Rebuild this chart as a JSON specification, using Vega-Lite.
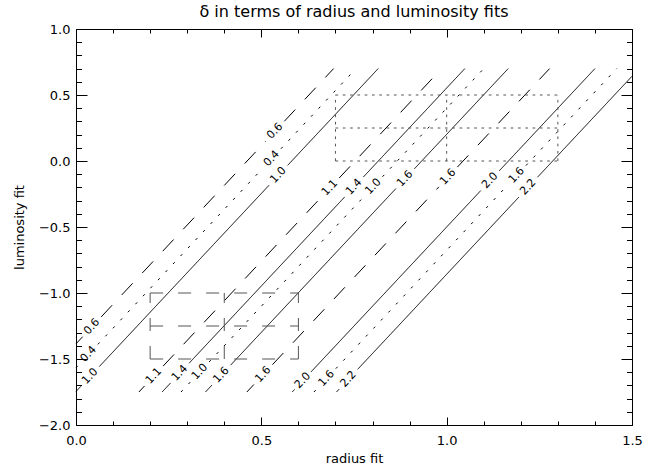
{
  "$schema": "https://vega.github.io/schema/vega-lite/v6.json",
  "width": 556,
  "height": 396,
  "autosize": {"type": "none"},
  "padding": {"left": 76, "top": 29, "right": 27, "bottom": 41},
  "background": "white",
  "title": {"text": "δ in terms of radius and luminosity fits", "fontSize": 16, "font": "DejaVu Sans", "fontWeight": "normal", "color": "black", "anchor": "middle", "offset": -10, "baseline": "alphabetic"},
  "config": {
    "view": {"stroke": null},
    "axis": {"domainColor": "black", "tickColor": "black", "labelColor": "black", "titleColor": "black", "labelFont": "DejaVu Sans", "titleFont": "DejaVu Sans", "labelFontSize": 13, "titleFontSize": 13, "titleFontWeight": "normal", "grid": false, "labelFlush": false, "labelOverlap": false, "domainWidth": 1, "tickWidth": 1}
  },
  "datasets": {
    "segments": [
      {"set": "set2", "x": 0, "y": -1.385, "x2": 0.018, "y2": -1.331},
      {"set": "set2", "x": 0.068, "y": -1.181, "x2": 0.512, "y2": 0.151},
      {"set": "set2", "x": 0.562, "y": 0.301, "x2": 0.695, "y2": 0.7},
      {"set": "set3", "x": 0, "y": -1.566, "x2": 0.009, "y2": -1.539},
      {"set": "set3", "x": 0.059, "y": -1.389, "x2": 0.503, "y2": -0.057},
      {"set": "set3", "x": 0.553, "y": 0.093, "x2": 0.7553, "y2": 0.7},
      {"set": "set1", "x": 0, "y": -1.746, "x2": 0.013, "y2": -1.707},
      {"set": "set1", "x": 0.063, "y": -1.557, "x2": 0.521, "y2": -0.183},
      {"set": "set1", "x": 0.571, "y": -0.033, "x2": 0.8153, "y2": 0.7},
      {"set": "set2", "x": 0.1697, "y": -1.75, "x2": 0.185, "y2": -1.704},
      {"set": "set2", "x": 0.235, "y": -1.554, "x2": 0.66, "y2": -0.279},
      {"set": "set2", "x": 0.71, "y": -0.129, "x2": 0.9863, "y2": 0.7},
      {"set": "set1", "x": 0.2323, "y": -1.75, "x2": 0.255, "y2": -1.682},
      {"set": "set1", "x": 0.305, "y": -1.532, "x2": 0.725, "y2": -0.272},
      {"set": "set1", "x": 0.775, "y": -0.122, "x2": 1.049, "y2": 0.7},
      {"set": "set3", "x": 0.2833, "y": -1.75, "x2": 0.309, "y2": -1.673},
      {"set": "set3", "x": 0.359, "y": -1.523, "x2": 0.777, "y2": -0.269},
      {"set": "set3", "x": 0.827, "y": -0.119, "x2": 1.1, "y2": 0.7},
      {"set": "set1", "x": 0.3493, "y": -1.75, "x2": 0.367, "y2": -1.697},
      {"set": "set1", "x": 0.417, "y": -1.547, "x2": 0.863, "y2": -0.209},
      {"set": "set1", "x": 0.913, "y": -0.059, "x2": 1.166, "y2": 0.7},
      {"set": "set2", "x": 0.461, "y": -1.75, "x2": 0.48, "y2": -1.693},
      {"set": "set2", "x": 0.53, "y": -1.543, "x2": 0.979, "y2": -0.196},
      {"set": "set2", "x": 1.029, "y": -0.046, "x2": 1.2777, "y2": 0.7},
      {"set": "set1", "x": 0.5833, "y": -1.75, "x2": 0.59, "y2": -1.73},
      {"set": "set1", "x": 0.634, "y": -1.598, "x2": 1.092, "y2": -0.224},
      {"set": "set1", "x": 1.142, "y": -0.074, "x2": 1.4, "y2": 0.7},
      {"set": "set3", "x": 0.642, "y": -1.75, "x2": 0.651, "y2": -1.723},
      {"set": "set3", "x": 0.701, "y": -1.573, "x2": 1.164, "y2": -0.184},
      {"set": "set3", "x": 1.214, "y": -0.034, "x2": 1.4587, "y2": 0.7},
      {"set": "set1", "x": 0.7027, "y": -1.75, "x2": 0.71, "y2": -1.728},
      {"set": "set1", "x": 0.76, "y": -1.578, "x2": 1.195, "y2": -0.273},
      {"set": "set1", "x": 1.245, "y": -0.123, "x2": 1.5, "y2": 0.642},
      {"set": "box2", "x": 0.7, "y": 0, "x2": 1.3, "y2": 0},
      {"set": "box2", "x": 0.7, "y": 0.25, "x2": 1.3, "y2": 0.25},
      {"set": "box2", "x": 0.7, "y": 0.5, "x2": 1.3, "y2": 0.5},
      {"set": "box2", "x": 0.7, "y": 0, "x2": 0.7, "y2": 0.5},
      {"set": "box2", "x": 1.0, "y": 0, "x2": 1.0, "y2": 0.5},
      {"set": "box2", "x": 1.3, "y": 0, "x2": 1.3, "y2": 0.5},
      {"set": "box1", "x": 0.2, "y": -1.5, "x2": 0.6, "y2": -1.5},
      {"set": "box1", "x": 0.2, "y": -1.25, "x2": 0.6, "y2": -1.25},
      {"set": "box1", "x": 0.2, "y": -1.0, "x2": 0.6, "y2": -1.0},
      {"set": "box1", "x": 0.2, "y": -1.5, "x2": 0.2, "y2": -1.0},
      {"set": "box1", "x": 0.4, "y": -1.5, "x2": 0.4, "y2": -1.0},
      {"set": "box1", "x": 0.6, "y": -1.5, "x2": 0.6, "y2": -1.0}
    ],
    "labels": [
      {"label": "0.6", "x": 0.043, "y": -1.256},
      {"label": "0.6", "x": 0.537, "y": 0.226},
      {"label": "0.4", "x": 0.034, "y": -1.464},
      {"label": "0.4", "x": 0.528, "y": 0.018},
      {"label": "1.0", "x": 0.038, "y": -1.632},
      {"label": "1.0", "x": 0.546, "y": -0.108},
      {"label": "1.1", "x": 0.21, "y": -1.629},
      {"label": "1.1", "x": 0.685, "y": -0.204},
      {"label": "1.4", "x": 0.28, "y": -1.607},
      {"label": "1.4", "x": 0.75, "y": -0.197},
      {"label": "1.0", "x": 0.334, "y": -1.598},
      {"label": "1.0", "x": 0.802, "y": -0.194},
      {"label": "1.6", "x": 0.392, "y": -1.622},
      {"label": "1.6", "x": 0.888, "y": -0.134},
      {"label": "1.6", "x": 0.505, "y": -1.618},
      {"label": "1.6", "x": 1.004, "y": -0.121},
      {"label": "2.0", "x": 0.612, "y": -1.664},
      {"label": "2.0", "x": 1.117, "y": -0.149},
      {"label": "1.6", "x": 0.676, "y": -1.648},
      {"label": "1.6", "x": 1.189, "y": -0.109},
      {"label": "2.2", "x": 0.735, "y": -1.653},
      {"label": "2.2", "x": 1.22, "y": -0.198}
    ]
  },
  "resolve": {"axis": {"x": "independent", "y": "independent"}},
  "layer": [
    {
      "data": {"name": "segments"},
      "mark": {"type": "rule", "strokeWidth": 1},
      "encoding": {
        "x": {"field": "x", "type": "quantitative", "scale": {"domain": [0, 1.5], "nice": false, "zero": false},
          "axis": {"orient": "bottom", "title": "radius fit", "titlePadding": 1, "values": [0, 0.1, 0.2, 0.3, 0.4, 0.5, 0.6, 0.7, 0.8, 0.9, 1, 1.1, 1.2, 1.3, 1.4, 1.5],
            "format": ".1f", "labelExpr": "abs(round(datum.value*10)) % 5 == 0 ? datum.label : ''", "labelPadding": 17,
            "tickSize": {"condition": {"test": "abs(round(datum.value*10)) % 5 == 0", "value": -8}, "value": -4}}},
        "y": {"field": "y", "type": "quantitative", "scale": {"domain": [-2, 1], "nice": false, "zero": false},
          "axis": {"orient": "left", "title": "luminosity fit", "titlePadding": 12, "values": [-2, -1.9, -1.8, -1.7, -1.6, -1.5, -1.4, -1.3, -1.2, -1.1, -1, -0.9, -0.8, -0.7, -0.6, -0.5, -0.4, -0.3, -0.2, -0.1, 0, 0.1, 0.2, 0.3, 0.4, 0.5, 0.6, 0.7, 0.8, 0.9, 1],
            "format": ".1f", "labelExpr": "abs(round(datum.value*10)) % 5 == 0 ? datum.label : ''", "labelPadding": 17,
            "tickSize": {"condition": {"test": "abs(round(datum.value*10)) % 5 == 0", "value": -11}, "value": -5.5}}},
        "x2": {"field": "x2"},
        "y2": {"field": "y2"},
        "color": {"field": "set", "type": "nominal", "legend": null,
          "scale": {"domain": ["set1", "set2", "set3", "box1", "box2"], "range": ["black", "black", "black", "#555555", "#555555"]}},
        "strokeDash": {"field": "set", "type": "nominal", "legend": null,
          "scale": {"domain": ["set1", "set2", "set3", "box1", "box2"], "range": [[1, 0], [16, 14], [2.5, 8.5], [13, 15], [2.7, 4.6]]}}
      }
    },
    {
      "data": {"name": "labels"},
      "mark": {"type": "text", "angle": -46.9, "font": "DejaVu Sans", "fontSize": 11, "align": "center", "baseline": "middle", "fill": "black"},
      "encoding": {
        "x": {"field": "x", "type": "quantitative", "scale": {"domain": [0, 1.5], "nice": false, "zero": false},
          "axis": {"orient": "top", "title": null, "labels": false, "values": [0, 0.1, 0.2, 0.3, 0.4, 0.5, 0.6, 0.7, 0.8, 0.9, 1, 1.1, 1.2, 1.3, 1.4, 1.5],
            "tickSize": {"condition": {"test": "abs(round(datum.value*10)) % 5 == 0", "value": -8}, "value": -4}}},
        "y": {"field": "y", "type": "quantitative", "scale": {"domain": [-2, 1], "nice": false, "zero": false},
          "axis": {"orient": "right", "title": null, "labels": false, "values": [-2, -1.9, -1.8, -1.7, -1.6, -1.5, -1.4, -1.3, -1.2, -1.1, -1, -0.9, -0.8, -0.7, -0.6, -0.5, -0.4, -0.3, -0.2, -0.1, 0, 0.1, 0.2, 0.3, 0.4, 0.5, 0.6, 0.7, 0.8, 0.9, 1],
            "tickSize": {"condition": {"test": "abs(round(datum.value*10)) % 5 == 0", "value": -11}, "value": -5.5}}},
        "text": {"field": "label", "type": "nominal"}
      }
    }
  ]
}
